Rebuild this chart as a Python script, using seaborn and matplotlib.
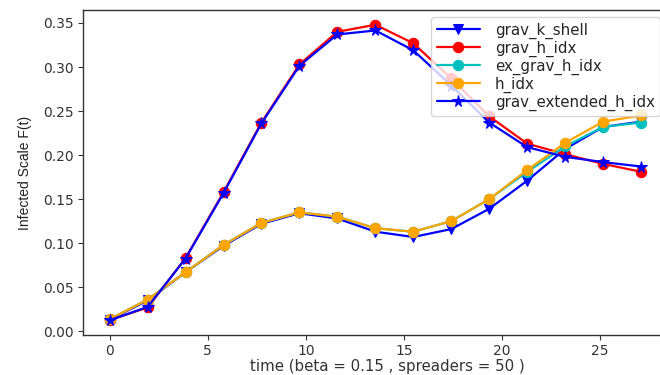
import matplotlib
matplotlib.use("Agg")
import matplotlib.pyplot as plt
import seaborn as sns
import pandas as pd

time = [0, 1.94, 3.87, 5.81, 7.74, 9.68, 11.61, 13.55, 15.48, 17.42, 19.35, 21.29, 23.23, 25.16, 27.1]
grav_k_shell = [0.013, 0.035, 0.067, 0.097, 0.122, 0.134, 0.128, 0.113, 0.107, 0.116, 0.139, 0.171, 0.207, 0.232, 0.238]
grav_h_idx = [0.0125, 0.027, 0.083, 0.158, 0.237, 0.303, 0.340, 0.348, 0.327, 0.287, 0.244, 0.213, 0.201, 0.190, 0.181]
ex_grav_h_idx = [0.0135, 0.036, 0.067, 0.098, 0.123, 0.135, 0.130, 0.117, 0.113, 0.125, 0.150, 0.181, 0.210, 0.232, 0.237]
h_idx = [0.0135, 0.036, 0.067, 0.098, 0.123, 0.135, 0.130, 0.117, 0.113, 0.125, 0.150, 0.183, 0.214, 0.238, 0.245]
grav_extended_h_idx = [0.0125, 0.0276, 0.0825, 0.157, 0.236, 0.3015, 0.337, 0.3415, 0.319, 0.279, 0.237, 0.209, 0.198, 0.192, 0.187]

series = [
    ("grav_k_shell", grav_k_shell, "#0000ff", "v"),
    ("grav_h_idx", grav_h_idx, "#ff0000", "o"),
    ("ex_grav_h_idx", ex_grav_h_idx, "#00bfbf", "o"),
    ("h_idx", h_idx, "#ffa500", "o"),
    ("grav_extended_h_idx", grav_extended_h_idx, "#0000ff", "*"),
]

sns.set_style("ticks")
plt.rcParams["font.family"] = ["DejaVu Sans"]

fig = plt.figure(figsize=(6.6, 3.75), dpi=100)
ax = fig.add_axes([0.1258, 0.1067, 0.886, 0.8667])

for name, vals, color, marker in series:
    df = pd.DataFrame({"time": time, "val": vals})
    sns.lineplot(data=df, x="time", y="val", ax=ax, color=color, marker=marker,
                 markersize=7.5 if marker != "*" else 8.5, markeredgecolor=color,
                 linewidth=1.6, label=name)

for s in ax.spines.values():
    s.set_color("#333333")
    s.set_linewidth(1.0)
ax.tick_params(labelsize=10, colors="#333333", length=3.5, pad=3)
ax.set_xticks([0, 5, 10, 15, 20, 25])
ax.set_yticks([0.0, 0.05, 0.10, 0.15, 0.20, 0.25, 0.30, 0.35])
ax.set_xlabel("time (beta = 0.15 , spreaders = 50 )", fontsize=10.8, color="#333333")
ax.xaxis.set_label_coords(0.52, -0.075)
ax.set_ylabel("Infected Scale F(t)", fontsize=10, family=["Liberation Sans", "DejaVu Sans"],
              color="#222222", labelpad=8)

leg = ax.legend(loc="upper right", fontsize=10.8, frameon=True, handlelength=2.9,
                labelspacing=0.12, borderpad=0.35, handletextpad=1.0)
leg.get_frame().set_edgecolor("#cccccc")
leg.get_frame().set_alpha(0.8)

fig.savefig("out.png", dpi=100)
